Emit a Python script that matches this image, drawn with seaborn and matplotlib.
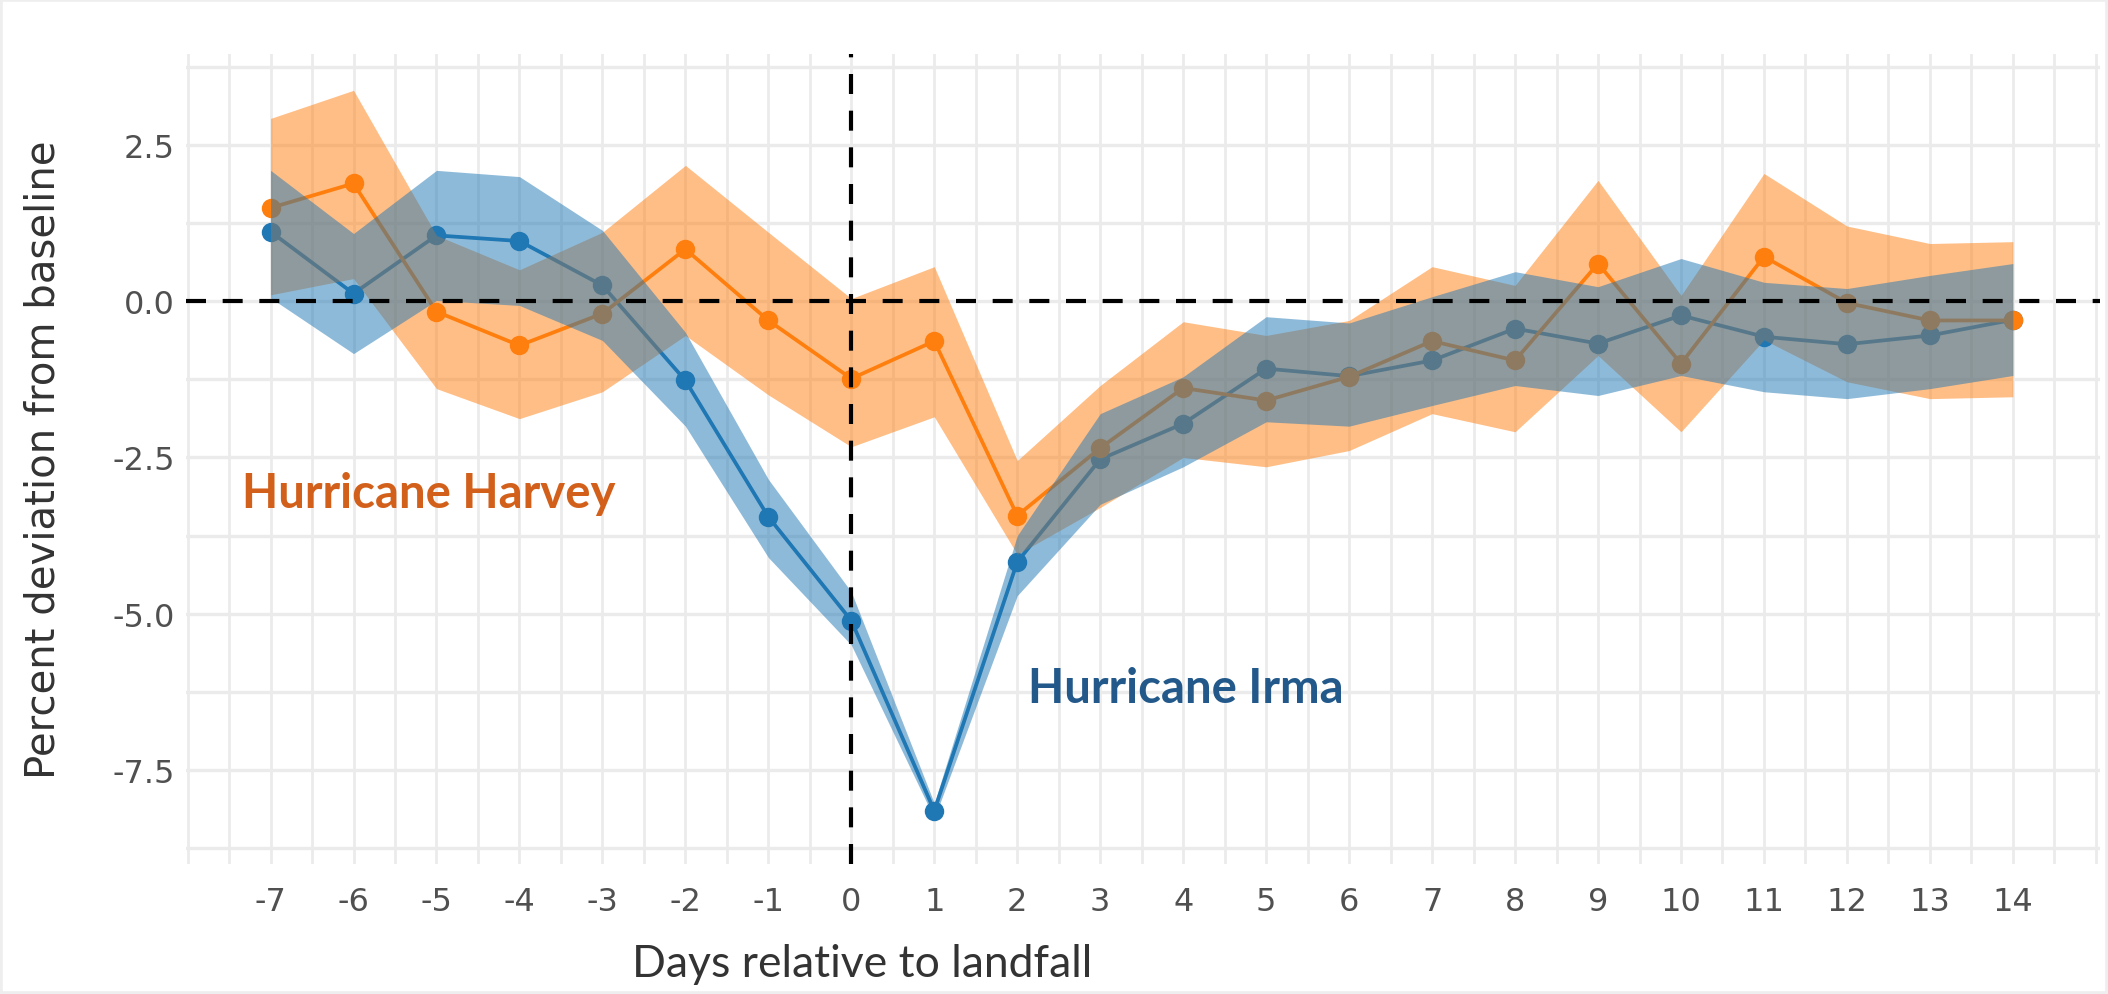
import numpy as np
import pandas as pd
import seaborn as sns
import matplotlib.pyplot as plt
from matplotlib import font_manager
from matplotlib.patches import Rectangle

# values
days = list(range(-7, 15))
day_labels = [str(d) for d in days]

harvey_mean = [1.49, 1.88, -0.17, -0.71, -0.20, 0.83, -0.31, -1.24, -0.64, -3.43, -2.35,
               -1.39, -1.59, -1.21, -0.64, -0.95, 0.60, -1.00, 0.71, -0.03, -0.31, -0.31]
harvey_upper = [2.92, 3.37, 1.05, 0.50, 1.10, 2.17, 1.10, 0.04, 0.55, -2.55, -1.35,
                -0.33, -0.55, -0.31, 0.55, 0.25, 1.93, 0.09, 2.04, 1.20, 0.92, 0.95]
harvey_lower = [0.10, 0.36, -1.40, -1.88, -1.45, -0.55, -1.50, -2.33, -1.85, -4.05, -3.30,
                -2.50, -2.65, -2.39, -1.80, -2.09, -0.87, -2.09, -0.62, -1.29, -1.56, -1.53]

irma_mean = [1.11, 0.12, 1.05, 0.96, 0.25, -1.27, -3.45, -5.11, -8.15, -4.17, -2.53,
             -1.96, -1.08, -1.20, -0.95, -0.44, -0.68, -0.23, -0.57, -0.69, -0.55, -0.30]
irma_upper = [2.09, 1.08, 2.09, 1.99, 1.13, -0.50, -2.85, -4.65, -8.03, -3.75, -1.80,
              -1.21, -0.25, -0.35, 0.07, 0.47, 0.23, 0.68, 0.30, 0.20, 0.41, 0.60]
irma_lower = [0.05, -0.84, 0.01, -0.07, -0.63, -2.00, -4.10, -5.50, -8.27, -4.71, -3.25,
              -2.65, -1.93, -2.00, -1.67, -1.35, -1.51, -1.19, -1.45, -1.56, -1.40, -1.19]

y_ticks = [-7.5, -5.0, -2.5, 0.0, 2.5]

orange = '#FF7F0E'
blue = '#1F77B4'

df = pd.DataFrame({
    'day': days + days,
    'value': harvey_mean + irma_mean,
    'storm': ['Harvey'] * len(days) + ['Irma'] * len(days),
})

sns.set_style('white')
names = {f.name for f in font_manager.fontManager.ttflist}
if 'Liberation Sans Narrow' in names:
    tick_font, tick_size = 'Liberation Sans Narrow', 28
else:
    tick_font, tick_size = 'DejaVu Sans', 23

fig = plt.figure(figsize=(21.08, 9.95), dpi=100)
ax = fig.add_axes([0.0882, 0.1307, 0.908, 0.814])

# Irma first so the Harvey points sit on top where they meet
sns.lineplot(data=df, x='day', y='value', hue='storm', hue_order=['Irma', 'Harvey'],
             palette={'Harvey': orange, 'Irma': blue},
             marker='o', markersize=14, markeredgewidth=0, linewidth=2.7,
             errorbar=None, legend=False, ax=ax, zorder=2)

# ribbons go over the lines, Irma on top
ax.fill_between(days, harvey_lower, harvey_upper, color=orange, alpha=0.5, lw=0, zorder=3)
ax.fill_between(days, irma_lower, irma_upper, color=blue, alpha=0.5, lw=0, zorder=4)

ax.axhline(0, color='black', lw=3, dashes=(4.8, 4), zorder=5)
ax.axvline(0, color='black', lw=3, dashes=(4.8, 4), zorder=5)

ax.set_xlim(-8.02, 15.05)
ax.set_ylim(-9.0, 3.95)

ax.set_xticks(range(-8, 16))
ax.set_xticklabels([''] + day_labels + [''])
ax.set_xticks(np.arange(-7.5, 15, 1.0), minor=True)
ax.set_yticks(y_ticks)
ax.set_yticklabels([f'{v:.1f}' for v in y_ticks])
ax.set_yticks(np.arange(-8.75, 4.0, 2.5), minor=True)

ax.grid(True, which='both', axis='x', color='#EBEBEB', lw=2.0)
ax.grid(True, which='both', axis='y', color='#EBEBEB', lw=2.4)
ax.set_axisbelow(True)
ax.tick_params(which='both', length=0)
ax.tick_params(axis='x', pad=16, labelsize=tick_size, labelcolor='#505050')
ax.tick_params(axis='y', pad=8, labelsize=tick_size, labelcolor='#505050')
for lab in ax.get_xticklabels() + ax.get_yticklabels():
    lab.set_fontfamily(tick_font)
for s in ax.spines.values():
    s.set_visible(False)

ax.set_xlabel('')
ax.set_ylabel('Percent deviation from baseline', fontsize=29, color='#333333',
              family='DejaVu Sans')
ax.yaxis.set_label_coords(-0.064, 0.5)
fig.text(0.409, 0.031, 'Days relative to landfall', fontsize=32, color='#333333',
         family='Lato', ha='center', va='center')

ax.text(-7.34, -3.29, 'Hurricane Harvey', fontsize=34, fontweight='bold', family='Lato',
        color='#D2601A', va='baseline', zorder=6)
ax.text(2.13, -6.41, 'Hurricane Irma', fontsize=34, fontweight='bold', family='Lato',
        color='#22598A', va='baseline', zorder=6)

fig.patches.append(Rectangle((0, 0), 1, 1, transform=fig.transFigure, fill=False,
                             edgecolor='#EEEEEE', lw=4))

fig.savefig('out.png', dpi=100)
